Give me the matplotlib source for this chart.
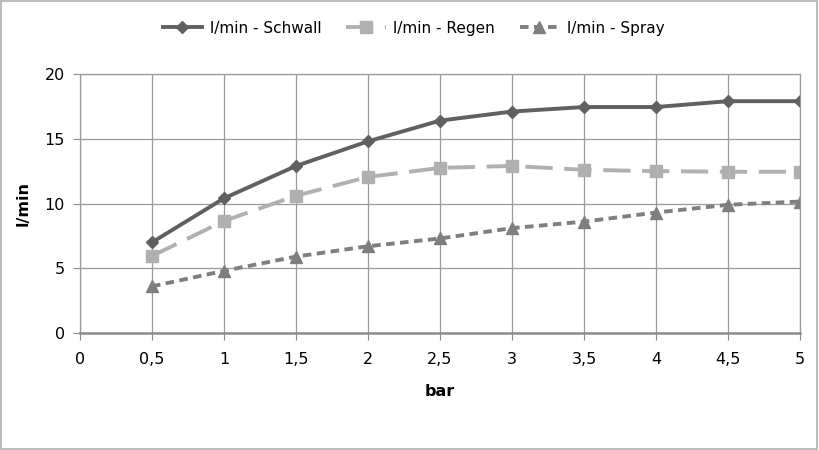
import matplotlib.pyplot as plt
from matplotlib.patches import Rectangle

plt.rcParams['font.family'] = ['Liberation Sans Narrow', 'DejaVu Sans']

bar = [0.5, 1, 1.5, 2, 2.5, 3, 3.5, 4, 4.5, 5]
schwall = [7.0, 10.4, 12.9, 14.8, 16.4, 17.1, 17.45, 17.45, 17.9, 17.9]
regen = [5.95, 8.65, 10.6, 12.05, 12.75, 12.9, 12.6, 12.5, 12.45, 12.45]
spray = [3.6, 4.8, 5.9, 6.7, 7.3, 8.1, 8.6, 9.3, 9.9, 10.15]
xticks = [0, 0.5, 1, 1.5, 2, 2.5, 3, 3.5, 4, 4.5, 5]

fig = plt.figure(figsize=(8.19, 4.5), dpi=100)
ax = fig.add_axes([80 / 819, 1 - 333 / 450, 720 / 819, 259 / 450])

ax.plot(bar, schwall, color='#606060', lw=2.8, marker='D', ms=6, label='l/min - Schwall')
ax.plot(bar, regen, color='#b0b0b0', lw=2.8, ls=(0, (7, 3)), marker='s', ms=8,
        label='l/min - Regen')
ax.plot(bar, spray, color='#7f7f7f', lw=2.8, ls=(0, (2.2, 1.4)), marker='^', ms=8,
        label='l/min - Spray')

ax.set_xlim(0, 5)
ax.set_ylim(0, 20)
ax.set_xticks(xticks, [str(v).replace('.', ',').removesuffix(',0') for v in xticks])
ax.set_yticks([0, 5, 10, 15, 20])
ax.grid(True, color='#9a9a9a', lw=0.9)
ax.set_axisbelow(True)
for s in ['top', 'right', 'left']:
    ax.spines[s].set_color('#9a9a9a')
    ax.spines[s].set_linewidth(0.9)
ax.spines['bottom'].set_color('#8c8c8c')
ax.spines['bottom'].set_linewidth(1.8)
ax.tick_params(axis='x', length=5, color='#8c8c8c', pad=9, labelsize=11.5)
ax.tick_params(axis='y', length=5, color='#8c8c8c', pad=6, labelsize=11.5)
ax.set_xlabel('bar', fontsize=11.5, fontweight='bold', labelpad=12)
ax.set_ylabel('l/min', fontsize=11.5, fontweight='bold', labelpad=10)

fig.legend(loc='upper center', bbox_to_anchor=(0.505, 0.985), ncols=3, frameon=False,
           fontsize=11, handlelength=2.6, columnspacing=1.6, handletextpad=0.5)
fig.patches.append(Rectangle((0.001, 0.002), 0.997, 0.996, transform=fig.transFigure,
                             fill=False, edgecolor='#b0b0b0', lw=1.2))

plt.savefig('out.png', dpi=100)
